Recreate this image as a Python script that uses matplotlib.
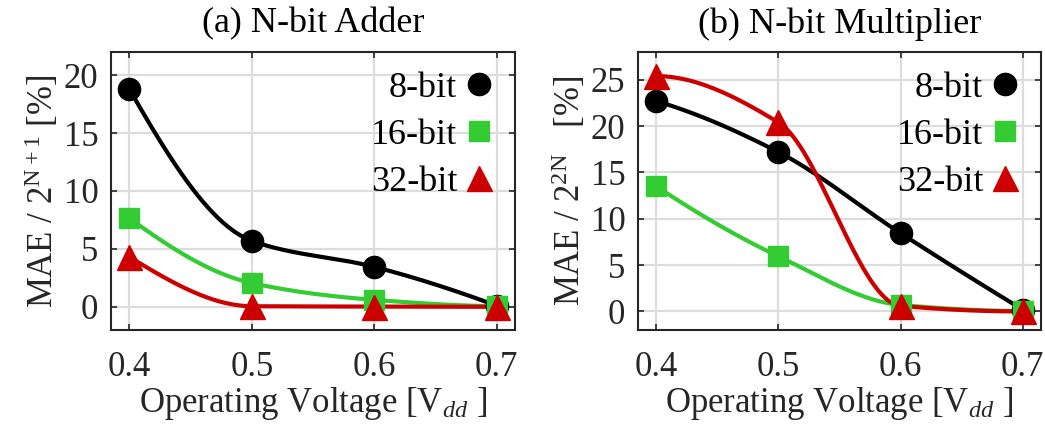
import numpy as np
import matplotlib
matplotlib.use("Agg")
import matplotlib.pyplot as plt

plt.rcParams['font.family'] = ['Liberation Serif', 'DejaVu Serif']
plt.rcParams['mathtext.fontset'] = 'custom'
plt.rcParams['mathtext.rm'] = 'Liberation Serif'
plt.rcParams['mathtext.it'] = 'Liberation Serif:italic'

# data
voltage = [0.4, 0.5, 0.6, 0.7]
series = ['8-bit', '16-bit', '32-bit']

adder_8 = [18.8, 5.7, 3.45, 0.1]
adder_16 = [7.65, 2.05, 0.6, 0.05]
adder_32 = [4.3, 0.05, 0.02, 0.0]

mult_8 = [22.7, 17.2, 8.45, 0.2]
mult_16 = [13.5, 5.95, 0.7, 0.05]
mult_32 = [25.4, 20.4, 0.6, 0.0]

colors = ['black', '#33cc33', '#cc0000']
markers = ['o', 's', '^']
msizes = [16, 14, 18]


def pchip(x, y, xs):
    # shape preserving cubic, like matlab pchip
    x = np.asarray(x, float)
    y = np.asarray(y, float)
    h = np.diff(x)
    d = np.diff(y) / h
    n = len(x)
    m = np.zeros(n)
    for k in range(1, n - 1):
        if d[k - 1] * d[k] > 0:
            w1 = 2 * h[k] + h[k - 1]
            w2 = h[k] + 2 * h[k - 1]
            m[k] = (w1 + w2) / (w1 / d[k - 1] + w2 / d[k])
    for k, (a, b, da, db) in ((0, (h[0], h[1], d[0], d[1])), (n - 1, (h[-1], h[-2], d[-1], d[-2]))):
        v = ((2 * a + b) * da - a * db) / (a + b)
        if np.sign(v) != np.sign(da):
            v = 0.0
        elif np.sign(da) != np.sign(db) and abs(v) > abs(3 * da):
            v = 3 * da
        m[k] = v
    idx = np.clip(np.searchsorted(x, xs) - 1, 0, n - 2)
    t = (xs - x[idx]) / h[idx]
    h00 = 2 * t**3 - 3 * t**2 + 1
    h10 = t**3 - 2 * t**2 + t
    h01 = -2 * t**3 + 3 * t**2
    h11 = t**3 - t**2
    return h00 * y[idx] + h10 * h[idx] * m[idx] + h01 * y[idx + 1] + h11 * h[idx] * m[idx + 1]


fig = plt.figure(figsize=(10.45, 4.3), dpi=100)
ax1 = fig.add_axes([0.1062, 0.2326, 0.3866, 0.6465])
ax2 = fig.add_axes([0.6105, 0.2326, 0.3856, 0.6465])

xs = np.linspace(0.4, 0.7, 300)

panels = [
    (ax1, [adder_8, adder_16, adder_32], '(a) N-bit Adder', r'MAE / $2^{\mathrm{N+1}}$ [%]', (-2, 22), [0, 5, 10, 15, 20]),
    (ax2, [mult_8, mult_16, mult_32], '(b) N-bit Multiplier', r'MAE / $2^{\mathrm{2N}}$   [%]', (-2, 28), [0, 5, 10, 15, 20, 25]),
]

for ax, data, title, ylab, ylim, yticks in panels:
    for vals, name, c, mk, ms in zip(data, series, colors, markers, msizes):
        ax.plot(xs, pchip(voltage, vals, xs), color=c, lw=3.0, zorder=3)
        ax.plot(voltage, vals, linestyle='none', marker=mk, ms=ms, color=c,
                markeredgecolor=c, label=name, zorder=4)
    ax.set_xlim(0.385, 0.715)
    ax.set_ylim(*ylim)
    ax.set_xticks(voltage)
    ax.set_xticklabels(['0.4', '0.5', '0.6', '0.7'])
    ax.set_yticks(yticks)
    ax.grid(True, color='#dcdcdc', lw=1.6)
    ax.set_axisbelow(True)
    ax.tick_params(direction='in', length=4, width=1.2, labelsize=25, top=True, right=True,
                   colors='#262626')
    ax.tick_params(axis='x', pad=15)
    ax.tick_params(axis='y', pad=9)
    for sp in ax.spines.values():
        sp.set_linewidth(1.5)
        sp.set_color('#262626')
    ax.set_title(title, fontsize=26, pad=14)
    ax.set_xlabel(r'Operating Voltage [V$_{dd}$ ]', fontsize=25, color='#262626', labelpad=1)
    ax.set_ylabel(ylab, fontsize=25, color='#262626', labelpad=2)
    ax.legend(loc='upper right', frameon=False, markerfirst=False, fontsize=26,
              handletextpad=0.15, labelspacing=0.38, borderaxespad=0.15, handlelength=0.9)

fig.savefig('out.png', dpi=100)
